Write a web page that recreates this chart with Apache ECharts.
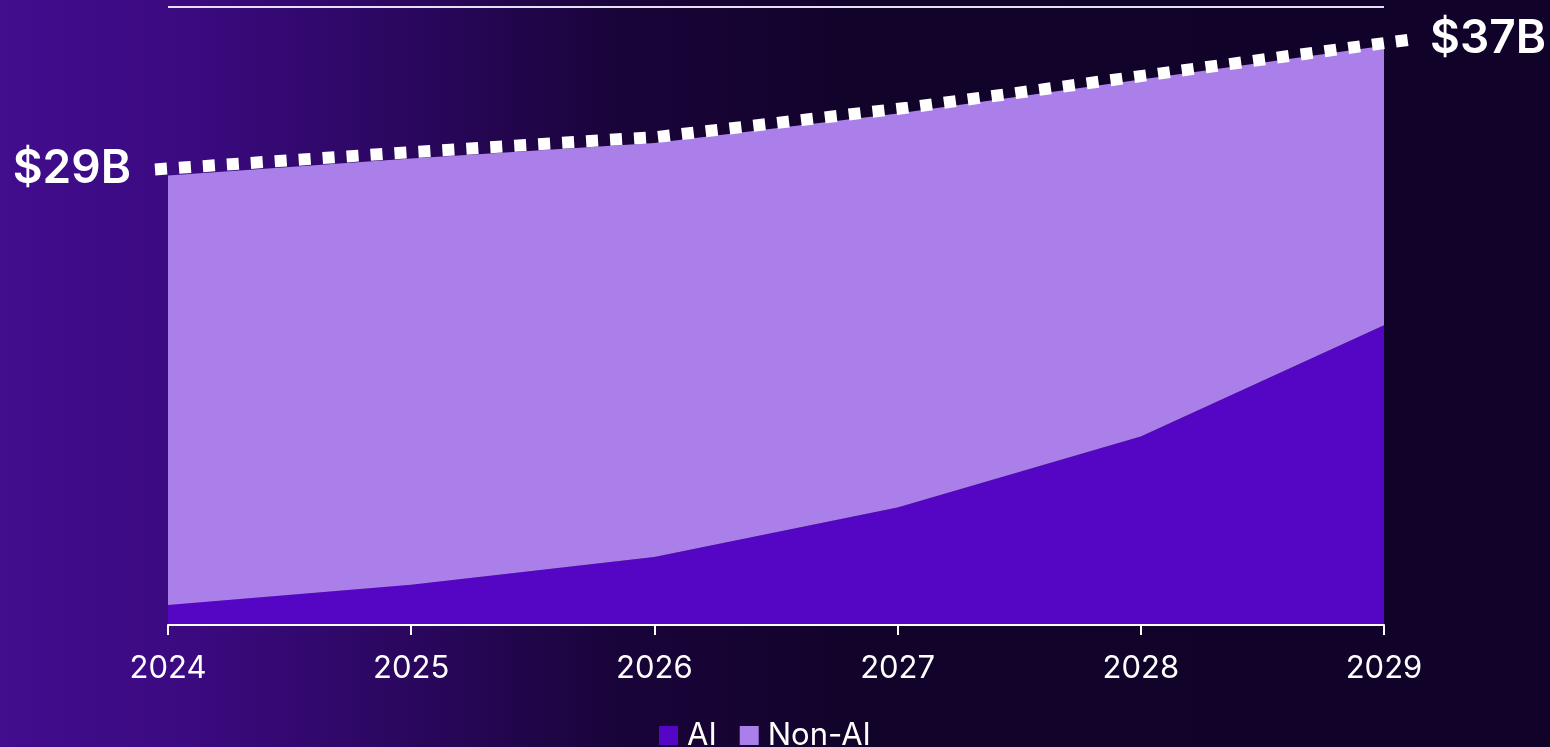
<!DOCTYPE html>
<html>
<head>
<meta charset="utf-8">
<script src="https://cdn.jsdelivr.net/npm/echarts@6/dist/echarts.min.js"></script>
<style>
  html, body { margin: 0; padding: 0; width: 1550px; height: 747px; overflow: hidden; background: #12032b; }
  #chart { width: 1550px; height: 747px; }
</style>
</head>
<body>
<div id="chart"></div>
<script>
// ---- data (USD billions) ----
const years = ['2024', '2025', '2026', '2027', '2028', '2029'];
const ai = [1.3, 2.6, 4.4, 7.6, 12.2, 19.4];
const nonAi = [27.8, 27.6, 26.8, 25.5, 23.1, 18.1];
const endLabels = ['$29B', '$37B'];
const seriesNames = ['AI', 'Non-AI'];

const total = ai.map((v, i) => +(v + nonAi[i]).toFixed(2));
const lastIdx = total.length - 1;

const font = 'Inter, "Noto Sans", sans-serif';

const dottedData = total.map((v, i) => {
  if (i === 0) {
    return { value: v, label: { show: true, position: 'left', distance: 24, offset: [0, -4], formatter: endLabels[0] } };
  }
  if (i === lastIdx) {
    return { value: v, label: { show: true, position: 'right', distance: 20, offset: [0, -6], formatter: endLabels[1] } };
  }
  return v;
});

const chart = echarts.init(document.getElementById('chart'), null, { renderer: 'canvas' });
chart.setOption({
  backgroundColor: {
    type: 'linear', x: 0, y: 0, x2: 1, y2: 0,
    colorStops: [
      { offset: 0.0, color: '#420d8e' },
      { offset: 0.12, color: '#3b0a80' },
      { offset: 0.25, color: '#2c0762' },
      { offset: 0.40, color: '#190439' },
      { offset: 0.55, color: '#12032b' },
      { offset: 1.0, color: '#11022a' }
    ]
  },
  animation: false,
  textStyle: { fontFamily: font },
  grid: [
    { left: 168, right: 166, top: 7, bottom: 122 },
    { left: 155, right: 140, top: 1, bottom: 128 }
  ],
  legend: {
    data: seriesNames,
    bottom: -9,
    left: 654,
    icon: 'rect',
    itemWidth: 19,
    itemHeight: 19,
    itemGap: 23,
    textStyle: { color: '#ffffff', fontSize: 31, fontFamily: font, padding: [0, 0, 0, 4] }
  },
  xAxis: [
    {
      type: 'category', gridIndex: 0, data: years, boundaryGap: false, z: 5,
      axisLine: { show: true, lineStyle: { color: '#ffffff', width: 2 } },
      axisTick: { show: true, length: 10, lineStyle: { color: '#ffffff', width: 2 } },
      axisLabel: { color: '#ffffff', fontSize: 31, margin: 28, fontFamily: font }
    },
    {
      type: 'category', gridIndex: 1, data: years, boundaryGap: false, show: false
    }
  ],
  yAxis: [
    {
      type: 'value', gridIndex: 0, min: 0, max: 40, interval: 20,
      axisLine: { show: false }, axisTick: { show: false }, axisLabel: { show: false },
      splitLine: { show: true, lineStyle: { color: '#e6def2', width: 2 } }
    },
    {
      type: 'value', gridIndex: 1, min: 0, max: 40, interval: 20, show: false,
      splitLine: { show: false }
    }
  ],
  series: [
    {
      name: seriesNames[0], type: 'line', stack: 'total', xAxisIndex: 0, yAxisIndex: 0,
      data: ai, symbol: 'none', lineStyle: { width: 0 },
      itemStyle: { color: '#5406c4' },
      areaStyle: { color: '#5406c4', opacity: 1 }
    },
    {
      name: seriesNames[1], type: 'line', stack: 'total', xAxisIndex: 0, yAxisIndex: 0,
      data: nonAi, symbol: 'none', lineStyle: { width: 0 },
      itemStyle: { color: '#ab7fea' },
      areaStyle: { color: '#ab7fea', opacity: 1 }
    },
    {
      name: 'Total', type: 'line', xAxisIndex: 1, yAxisIndex: 1, z: 6,
      data: dottedData, symbol: 'circle', symbolSize: 0.01, showSymbol: true, showAllSymbol: true,
      itemStyle: { color: 'rgba(0,0,0,0)' },
      lineStyle: { color: '#ffffff', width: 12, type: [12, 12], cap: 'butt' },
      label: { color: '#ffffff', fontSize: 46, fontWeight: 600, fontFamily: font },
      labelLayout: { hideOverlap: false }
    }
  ]
});
</script>
</body>
</html>
